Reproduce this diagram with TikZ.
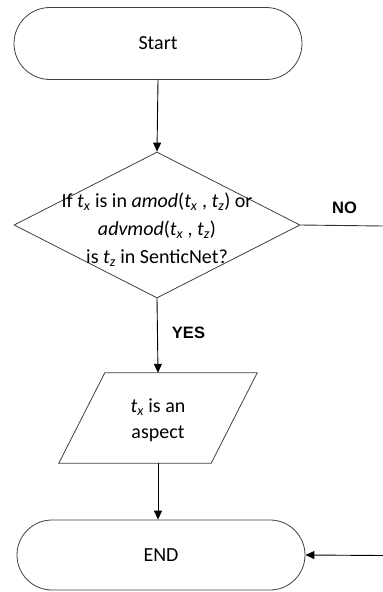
\documentclass[tikz,border=0pt]{standalone}
\usepackage{fontspec}
\setmainfont{Carlito}
\newfontfamily\labelfont{Liberation Sans}
\usetikzlibrary{shapes.misc,shapes.geometric,arrows.meta}
\begin{document}
\begin{tikzpicture}[x=1pt,y=-1pt,
  outline/.style={draw=black!75, line width=0.8pt},
  term/.style={outline, rounded rectangle, minimum width=288pt, minimum height=72pt, inner sep=0pt, font=\fontsize{20}{24}\selectfont},
  flow/.style={draw=black, line width=0.9pt, -{Triangle[length=9pt,width=8pt]}},
  plain/.style={draw=black!80, line width=0.9pt},
  answer/.style={font=\labelfont\bfseries\fontsize{16.5}{19}\selectfont},
  body/.style={align=center, font=\fontsize{20}{28}\selectfont}]
\useasboundingbox (0,0) rectangle (383,592);

% terminals
\node[term] (start) at (158,43.5) {Start};
\node[term, minimum height=70pt] (end) at (161,555) {END};

% decision
\node[outline, diamond, minimum width=286pt, minimum height=146pt, inner sep=0pt] (dec) at (157,225) {};
\node[body] (dectext) at (157,230) {If \textit{t\textsubscript{x}} is in \textit{amod}(\textit{t\textsubscript{x}} , \textit{t\textsubscript{z}}) or\\
  \textit{advmod}(\textit{t\textsubscript{x}} , \textit{t\textsubscript{z}})\\
  is \textit{t\textsubscript{z}} in SenticNet?};

% input/output box
\node[minimum width=152pt, minimum height=90pt, inner sep=0pt] (asp) at (158,418) {};
\draw[outline] ([xshift=23pt]asp.north west) -- ([xshift=23pt]asp.north east)
  -- ([xshift=-23pt]asp.south east) -- ([xshift=-23pt]asp.south west) -- cycle;
\node[body, font=\fontsize{20}{26}\selectfont] (asptext) at (158,420) {\textit{t\textsubscript{x}} is an\\aspect};

% free ends at the right border
\coordinate (noR) at (383,226);
\coordinate (endR) at (383,555.5);

% connectors
\draw[flow] (start.south) -- (dec.north);
\draw[flow] (dec.south) -- (asp.north);
\draw[flow] (asp.south) -- (asp.south |- end.north);
\draw[plain] (dec.east) -- (noR);
\draw[flow] (endR) -- (end.east);

% branch labels
\node[answer] (no) at (344.5,207.5) {NO};
\node[answer] (yes) at (188.5,332.5) {YES};
\end{tikzpicture}
\end{document}
